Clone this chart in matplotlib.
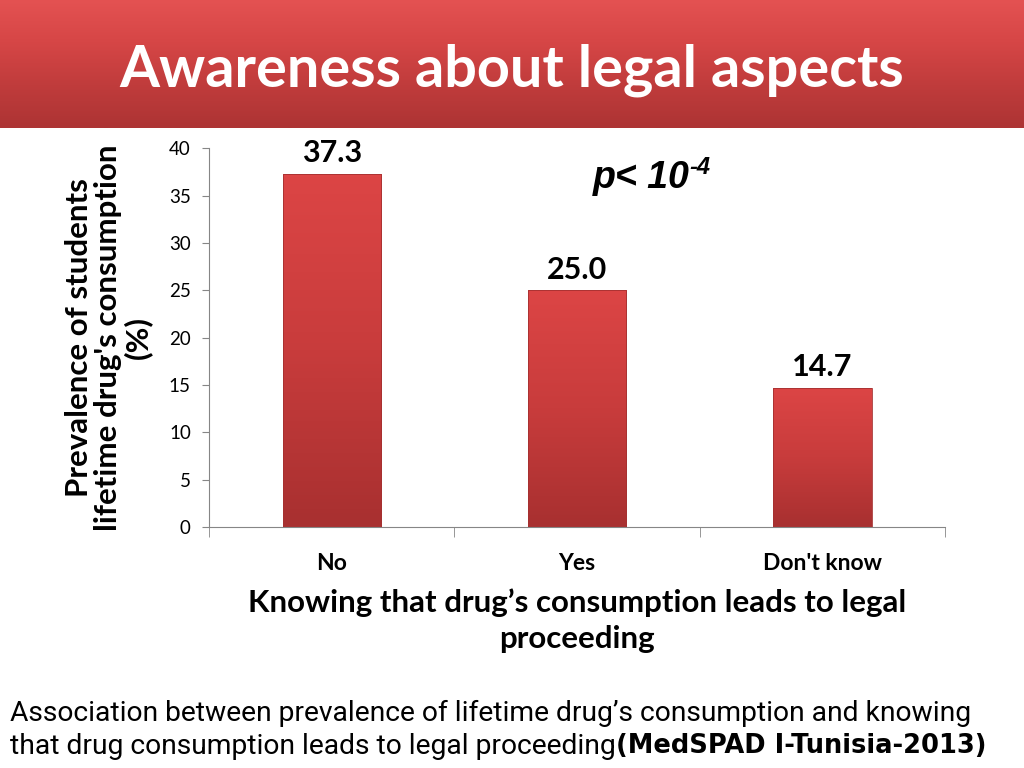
import numpy as np
import matplotlib
matplotlib.use("Agg")
import matplotlib.pyplot as plt
from matplotlib.colors import LinearSegmentedColormap

categories = ["No", "Yes", "Don't know"]
values = [37.3, 25.0, 14.7]
yticks = [0, 5, 10, 15, 20, 25, 30, 35, 40]

title = "Awareness about legal aspects"
ylabel = "Prevalence of students\nlifetime drug's consumption\n(%)"
xlabel = "Knowing that drug\u2019s consumption leads to legal\nproceeding"
caption1 = "Association between prevalence of lifetime drug\u2019s consumption and knowing"
caption2 = "that drug consumption leads to legal proceeding"
caption_bold = "(MedSPAD I-Tunisia-2013)"

plt.rcParams['font.family'] = ['Lato', 'DejaVu Sans']

fig = plt.figure(figsize=(10.24, 7.68), dpi=100)

# title banner
bax = fig.add_axes([0, 0.833, 1, 0.167])
bax.set_axis_off()
banner = LinearSegmentedColormap.from_list("banner", ["#e45252", "#d64646", "#c03c3c", "#ad3434"])
bax.imshow(np.linspace(0, 1, 100).reshape(-1, 1), aspect="auto", cmap=banner,
           extent=[0, 1, 0, 1])
bax.set_xlim(0, 1)
bax.set_ylim(0, 1)
fig.text(0.5, 0.908, title, color="white", fontsize=41.5, fontweight="bold",
         ha="center", va="center")

ax = fig.add_axes([0.204, 0.314, 0.719, 0.493])
x = np.arange(len(categories))
bars = ax.bar(x, values, width=0.4, color="none", edgecolor="#a53030", linewidth=0.6, zorder=3)
barcm = LinearSegmentedColormap.from_list("bar", ["#a83030", "#c83c3c", "#dc4545"])
for b in bars:
    im = ax.imshow(np.linspace(0, 1, 100).reshape(-1, 1), aspect="auto", cmap=barcm,
                   origin="lower",
                   extent=[b.get_x(), b.get_x() + b.get_width(), 0, b.get_height()], zorder=2)
    im.set_clip_path(b)
for xi, v in zip(x, values):
    ax.text(xi, v + 0.7, f"{v:.1f}", ha="center", va="bottom", fontsize=22, fontweight="bold")

ax.set_xlim(-0.5, 2.5)
ax.set_ylim(0, 40)
ax.set_yticks(yticks)
ax.tick_params(axis="y", labelsize=13.5, length=5, color="#868686", pad=8)
ax.set_xticks(x)
ax.set_xticklabels(categories, fontsize=16.5, fontweight="bold")
ax.tick_params(axis="x", length=0, pad=19)
ax.set_xticks([-0.5, 0.5, 1.5, 2.5], minor=True)
ax.tick_params(axis="x", which="minor", length=7, color="#868686")
for s in ["top", "right"]:
    ax.spines[s].set_visible(False)
for s in ["left", "bottom"]:
    ax.spines[s].set_color("#868686")

ax.set_xlabel(xlabel, fontsize=22.5, fontweight="bold", labelpad=10, linespacing=1.35)
ax.set_ylabel(ylabel, fontsize=22.5, fontweight="bold", labelpad=12, linespacing=1.05)

pfam = ["Liberation Sans", "DejaVu Sans"]
pt = fig.text(0.579, 0.768, "p< 10", fontsize=27, fontweight="bold", fontstyle="italic",
              family=pfam, ha="left", va="center")
fig.canvas.draw()
ax.annotate("-4", xy=(1, 1), xycoords=pt, xytext=(0, 3), textcoords="offset points",
            fontsize=17, fontweight="bold", fontstyle="italic",
            family=pfam, ha="left", va="top")

cfam = ["Roboto", "DejaVu Sans"]
fig.text(0.01, 0.071, caption1, fontsize=20.3, family=cfam, ha="left", va="center")
ct = fig.text(0.01, 0.028, caption2, fontsize=20.3, family=cfam, ha="left", va="center")
fig.canvas.draw()
ax.annotate(caption_bold, xy=(1, 0.5), xycoords=ct, xytext=(0, 0), textcoords="offset points",
            fontsize=18.5, fontweight="bold", family=["DejaVu Sans"], ha="left", va="center")

fig.savefig("out.png", dpi=100)
